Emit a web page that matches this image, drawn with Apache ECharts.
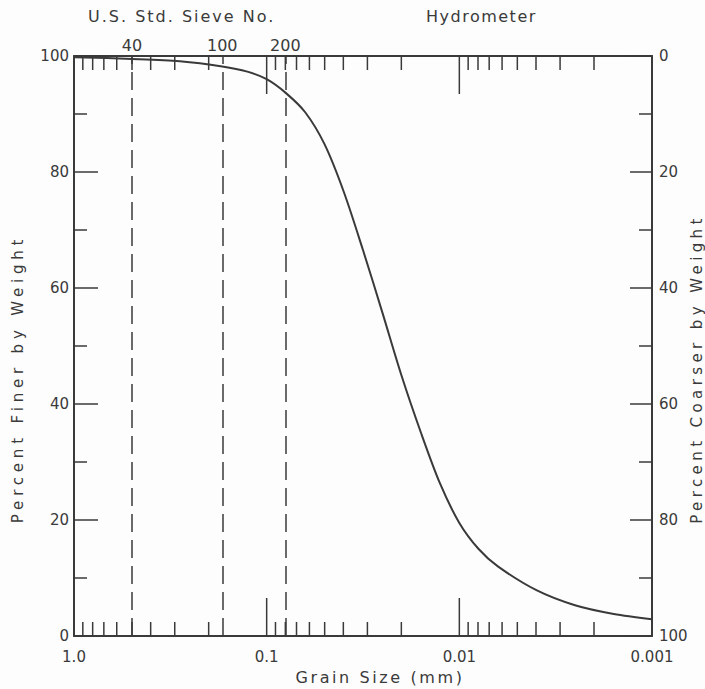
<!DOCTYPE html>
<html>
<head>
<meta charset="utf-8">
<script src="https://cdn.jsdelivr.net/npm/echarts@6/dist/echarts.min.js"></script>
<style>html,body{margin:0;padding:0;background:#fdfdfd;}#c{width:705px;height:689px;}</style>
</head>
<body>
<div id="c"></div>
<script>
// ---- data ----
const grainSize = [1.0, 0.501, 0.282, 0.170, 0.126, 0.100, 0.0794, 0.0631, 0.0501, 0.0398, 0.0316, 0.0251, 0.0200, 0.0158, 0.0126, 0.0100, 0.00794, 0.00631, 0.00398, 0.00251, 0.00158, 0.001];
const percentFiner = [99.8, 99.5, 99.1, 98.2, 97.3, 96.0, 93.6, 90.3, 84.8, 76.6, 66.5, 55.8, 45.0, 35.0, 26.3, 19.5, 15.0, 12.0, 7.9, 5.3, 3.8, 2.9];
const sieveNumbers = ['40', '100', '200'];
const sieveSizes = [0.5, 0.165, 0.077];
const majorTickSizes = [0.1, 0.01];
const minorTickSizes = [0.9, 0.8, 0.7, 0.6, 0.5, 0.4, 0.3, 0.2,
                        0.09, 0.08, 0.07, 0.06, 0.05, 0.04, 0.03, 0.02,
                        0.009, 0.008, 0.007, 0.006, 0.005, 0.004, 0.003, 0.002];
const xTickLabels = {'1': '1.0', '0.1': '0.1', '0.01': '0.01', '0.001': '0.001'};
const topLabels = ['U.S. Std. Sieve No.', 'Hydrometer'];
const xTitle = 'Grain Size (mm)';
const yLeftTitle = 'Percent Finer by Weight';
const yRightTitle = 'Percent Coarser by Weight';

const INK = '#3a3a3a';
const FONT = 'DejaVu Sans';

const chart = echarts.init(document.getElementById('c'), null, {renderer: 'svg'});

const tickData = majorTickSizes.map(v => [v, 0, 1]).concat(minorTickSizes.map(v => [v, 0, 0]));

const option = {
  backgroundColor: '#fdfdfd',
  animation: false,
  grid: {left: 74, right: 53, top: 56, bottom: 53, outerBoundsMode: 'none', containLabel: false},
  xAxis: [{
    type: 'log', logBase: 10, min: 0.001, max: 1, inverse: true, position: 'bottom',
    axisLine: {show: true, lineStyle: {color: INK, width: 2}},
    axisTick: {show: false}, splitLine: {show: false}, minorTick: {show: false},
    axisLabel: {color: INK, fontFamily: FONT, fontSize: 15, margin: 13,
      formatter: v => xTickLabels[String(+v.toPrecision(6))] || ''},
    name: xTitle, nameLocation: 'middle', nameGap: 33, nameMoveOverlap: false,
    nameTextStyle: {color: INK, fontFamily: FONT, fontSize: 16, padding: [0, 0, 0, 34]}
  }, {
    type: 'log', logBase: 10, min: 0.001, max: 1, inverse: true, position: 'top',
    axisLine: {show: true, lineStyle: {color: INK, width: 2}},
    axisTick: {show: false}, splitLine: {show: false}, axisLabel: {show: false}
  }],
  yAxis: [{
    type: 'value', min: 0, max: 100, interval: 20, position: 'left',
    axisLine: {show: true, lineStyle: {color: INK, width: 2}},
    axisTick: {show: true, inside: true, length: 24, lineStyle: {color: INK, width: 1.5}},
    minorTick: {show: true, splitNumber: 2, length: 13, lineStyle: {color: INK, width: 1.5}},
    splitLine: {show: false},
    axisLabel: {color: INK, fontFamily: FONT, fontSize: 15, margin: 5},
    name: yLeftTitle, nameLocation: 'middle', nameGap: 49, nameRotate: 90, nameMoveOverlap: false,
    nameTextStyle: {color: INK, fontFamily: FONT, fontSize: 15, padding: [0, 66, 0, 0]}
  }, {
    type: 'value', min: 0, max: 100, interval: 20, position: 'right', inverse: true,
    axisLine: {show: true, lineStyle: {color: INK, width: 2}},
    axisTick: {show: true, inside: true, length: 22, lineStyle: {color: INK, width: 1.5}},
    minorTick: {show: true, splitNumber: 2, length: 13, lineStyle: {color: INK, width: 1.5}},
    splitLine: {show: false},
    axisLabel: {color: INK, fontFamily: FONT, fontSize: 15, margin: 7},
    name: yRightTitle, nameLocation: 'middle', nameGap: 37, nameRotate: 90, nameMoveOverlap: false,
    nameTextStyle: {color: INK, fontFamily: FONT, fontSize: 15, padding: [0, 46, 0, 0]}
  }],
  graphic: [
    {type: 'text', left: 88, top: 8, style: {text: topLabels[0], fill: INK, font: '16px "DejaVu Sans"'}},
    {type: 'text', left: 426, top: 8, style: {text: topLabels[1], fill: INK, font: '16px "DejaVu Sans"'}}
  ],
  series: [{
    type: 'line', name: 'Percent Finer',
    xAxisIndex: 0, yAxisIndex: 0,
    data: grainSize.map((g, i) => [g, percentFiner[i]]),
    smooth: 0.3, showSymbol: false, symbol: 'none',
    lineStyle: {color: INK, width: 2},
    markLine: {
      silent: true, symbol: ['none', 'none'],
      lineStyle: {color: INK, width: 1.5, type: [18, 8]},
      label: {show: true, position: 'end', distance: 3, color: INK, fontFamily: FONT, fontSize: 16,
        formatter: p => p.name},
      data: sieveSizes.map((s, i) => ({xAxis: s, name: sieveNumbers[i]}))
    }
  }, {
    type: 'custom', name: 'ticks', xAxisIndex: 0, yAxisIndex: 0, clip: false, silent: true,
    data: tickData,
    renderItem: function (params, api) {
      const v = api.value(0);
      const major = api.value(2) === 1;
      const bot = api.coord([v, 0]);
      const top = api.coord([v, 100]);
      const len = major ? 38 : 14;
      const st = {stroke: INK, lineWidth: 1.5};
      return {type: 'group', children: [
        {type: 'line', shape: {x1: bot[0], y1: bot[1], x2: bot[0], y2: bot[1] - len}, style: st},
        {type: 'line', shape: {x1: top[0], y1: top[1], x2: top[0], y2: top[1] + len}, style: st}
      ]};
    }
  }]
};
chart.setOption(option);

// wide lettering of the original drawing
const spacing = {};
spacing[yLeftTitle] = 4.8;
spacing[yRightTitle] = 4.4;
spacing[xTitle] = 2.6;
spacing[topLabels[0]] = 2;
spacing[topLabels[1]] = 1.5;
function applySpacing() {
  chart.getDom().querySelectorAll('text').forEach(t => {
    const s = spacing[t.textContent];
    if (s) t.style.letterSpacing = s + 'px';
  });
}
applySpacing();
chart.on('finished', applySpacing);
</script>
</body>
</html>
